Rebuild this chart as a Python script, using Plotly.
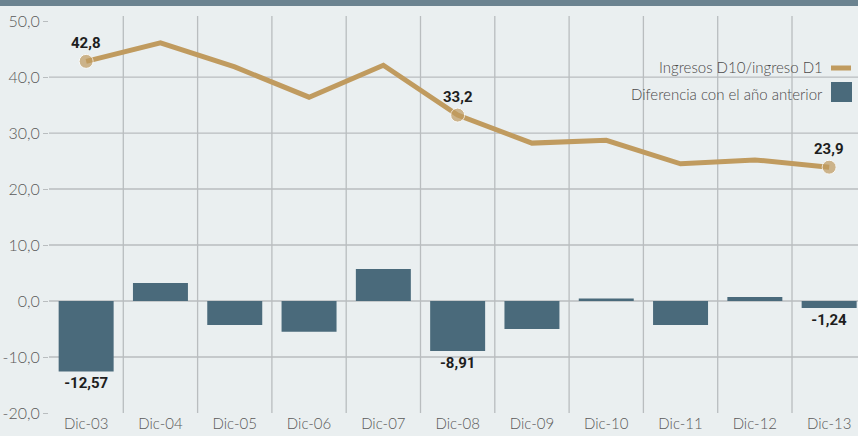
import plotly.graph_objects as go

categories = ["Dic-03", "Dic-04", "Dic-05", "Dic-06", "Dic-07", "Dic-08",
              "Dic-09", "Dic-10", "Dic-11", "Dic-12", "Dic-13"]
ratio_d10_d1 = [42.8, 46.1, 41.8, 36.4, 42.1, 33.2, 28.2, 28.7, 24.5, 25.2, 23.9]
diff_prev_year = [-12.57, 3.2, -4.3, -5.5, 5.7, -8.91, -5.0, 0.45, -4.3, 0.7, -1.24]
labelled_points = [0, 5, 10]
labelled_bars = [0, 5, 10]
ytick_vals = [-20, -10, 0, 10, 20, 30, 40, 50]
ytick_text = ["-20,0", "-10,0", "0,0", "10,0", "20,0", "30,0", "40,0", "50,0"]
grid_vals = [-10, 0, 10, 20, 30, 40]
legend_names = ["Ingresos D10/ingreso D1", "Diferencia con el año anterior"]

BG = "#eaeff0"
BAR = "#4a6a7b"
LINE = "#c09b5f"
GRID = "#b9bdbf"
BAND = "#6b8390"
TXT = "#4a4a4a"
LABEL_FONT = dict(family="Roboto", size=15, color="#1e1e1e", weight="bold")
TICK_FONT = dict(family="Lato", size=15, color="#5a5a5a", weight=300)

def fmt(v, nd):
    return f"{v:.{nd}f}".replace(".", ",")

fig = go.Figure()

fig.add_trace(go.Bar(
    x=list(range(len(categories))), y=diff_prev_year,
    width=0.74, marker=dict(color=BAR, line=dict(width=0)),
    text=[fmt(v, 2) if i in labelled_bars else "" for i, v in enumerate(diff_prev_year)],
    textposition="outside", textfont=LABEL_FONT, cliponaxis=False,
    name=legend_names[1], showlegend=False,
))

fig.add_trace(go.Scatter(
    x=list(range(len(categories))), y=ratio_d10_d1,
    mode="lines+markers",
    line=dict(color=LINE, width=5),
    marker=dict(color=LINE, size=[14 if i in labelled_points else 0 for i in range(len(categories))]),
    name=legend_names[0], showlegend=False, cliponaxis=False,
))

for i in labelled_points:
    fig.add_annotation(x=i, y=ratio_d10_d1[i], text=fmt(ratio_d10_d1[i], 1),
                       showarrow=False, yshift=18, font=LABEL_FONT)

shapes = []
for g in grid_vals:
    shapes.append(dict(type="line", xref="paper", yref="y", x0=0, x1=1, y0=g, y1=g,
                       line=dict(color=GRID, width=1.3), layer="below"))
for k in range(len(categories) - 1):
    shapes.append(dict(type="line", xref="x", yref="paper", x0=k + 0.5, x1=k + 0.5, y0=0, y1=1,
                       line=dict(color=GRID, width=1.3), layer="below"))

H = 436
top, bottom = 16, 23
ph = H - top - bottom
def py(px):
    return (H - bottom - px) / ph

W = 858
left, right = 49, 0
pw = W - left - right
def pxx(px):
    return (px - left) / pw

shapes.append(dict(type="rect", xref="paper", yref="paper", x0=pxx(0), x1=pxx(W),
                   y0=py(6), y1=py(0), fillcolor=BAND, line=dict(width=0)))
shapes.append(dict(type="line", xref="paper", yref="paper", x0=pxx(831), x1=pxx(851),
                   y0=py(68), y1=py(68), line=dict(color=LINE, width=5)))
shapes.append(dict(type="rect", xref="paper", yref="paper", x0=pxx(831), x1=pxx(852),
                   y0=py(102), y1=py(82), fillcolor=BAR, line=dict(width=0)))

fig.add_annotation(xref="paper", yref="paper", x=pxx(825), y=py(67), xanchor="right", yanchor="middle",
                   text=legend_names[0], showarrow=False,
                   font=dict(family="Lato", size=15, color=TXT, weight=300))
fig.add_annotation(xref="paper", yref="paper", x=pxx(825), y=py(94), xanchor="right", yanchor="middle",
                   text=legend_names[1], showarrow=False,
                   font=dict(family="Lato", size=15, color=TXT, weight=300))

fig.update_layout(
    width=W, height=H,
    margin=dict(l=left, r=right, t=top, b=bottom, pad=0, autoexpand=False),
    paper_bgcolor=BG, plot_bgcolor=BG,
    shapes=shapes, bargap=0.26,
    showlegend=False,
)
fig.update_xaxes(
    range=[-0.5, -0.5 + pw / 74.3],
    tickvals=list(range(len(categories))), ticktext=categories,
    showgrid=False, zeroline=False, showline=False, ticks="",
    tickfont=TICK_FONT, fixedrange=True, automargin=False,
)
fig.update_yaxes(
    range=[-20, 50.9],
    tickvals=ytick_vals, ticktext=ytick_text,
    showgrid=False, zeroline=False, showline=False,
    ticks="outside", ticklen=5, tickcolor=GRID, tickwidth=1.3,
    tickfont=dict(family="Lato", size=16, color="#5a5a5a", weight=300), automargin=False,
)

fig.write_html("out.html", config={"displayModeBar": False},
               post_script="document.body.style.margin='0';document.body.style.overflow='hidden';")
